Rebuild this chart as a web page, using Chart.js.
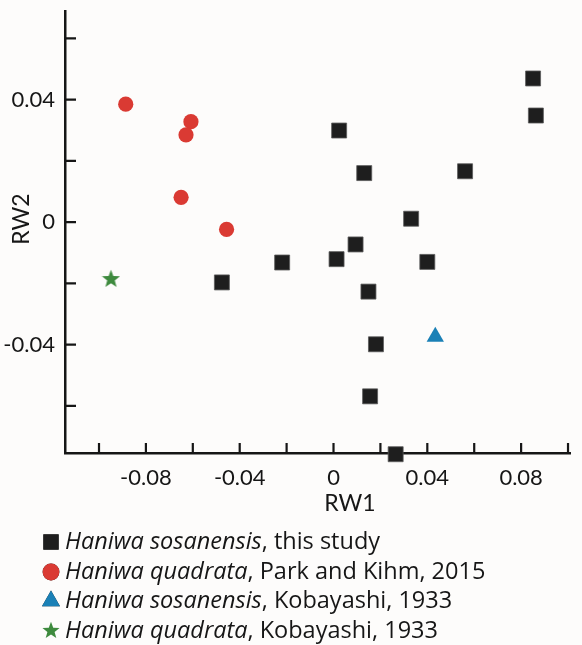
<!DOCTYPE html>
<html>
<head>
<meta charset="utf-8">
<script src="https://cdn.jsdelivr.net/npm/chart.js@4.4.1/dist/chart.umd.min.js"></script>
<style>
  html, body { margin: 0; padding: 0; background: #fdfcfb; }
  canvas { display: block; }
</style>
</head>
<body>
<canvas id="myChart" width="582" height="645"></canvas>
<script>
// series names (italic part, plain part)
const seriesItalic = ['Haniwa sosanensis', 'Haniwa quadrata', 'Haniwa sosanensis', 'Haniwa quadrata'];
const seriesPlain = [', this study', ', Park and Kihm, 2015', ', Kobayashi, 1933', ', Kobayashi, 1933'];

// Haniwa sosanensis, this study
const sosX = [0.0851, 0.0863, 0.0024, 0.0131, 0.0561, 0.0331, 0.0094, -0.0219, 0.0013, 0.0400, 0.0149, 0.0181, 0.0156, 0.0265, -0.0476];
const sosY = [0.0469, 0.0348, 0.0299, 0.0160, 0.0166, 0.0011, -0.0073, -0.0132, -0.0121, -0.0130, -0.0227, -0.0399, -0.0569, -0.0758, -0.0197];
// Haniwa quadrata, Park and Kihm 2015
const quadX = [-0.0886, -0.0608, -0.0629, -0.0650, -0.0456];
const quadY = [0.0385, 0.0328, 0.0285, 0.0081, -0.0024];
// Kobayashi 1933
const kobSosX = [0.0434];
const kobSosY = [-0.0374];
const kobQuadX = [-0.0949];
const kobQuadY = [-0.0184];

// tick positions (only every other one gets a label)
const xTicks = [-0.10, -0.08, -0.06, -0.04, -0.02, 0, 0.02, 0.04, 0.06, 0.08, 0.10];
const yTicks = [-0.06, -0.04, -0.02, 0, 0.02, 0.04, 0.06];

const xTitle = 'RW1';
const yTitle = 'RW2';

function pts(xs, ys) {
    return xs.map((x, i) => ({x: x, y: ys[i]}));
}

// filled five point star for the green marker
function makeStar(size, color) {
    const c = document.createElement('canvas');
    c.width = size; c.height = size;
    const g = c.getContext('2d');
    const cx = size / 2, cy = size / 2 + 0.8, ro = size / 2, ri = ro * 0.42;
    g.beginPath();
    for (let i = 0; i < 10; i++) {
        const r = i % 2 === 0 ? ro : ri;
        const a = -Math.PI / 2 + i * Math.PI / 5;
        g.lineTo(cx + r * Math.cos(a), cy + r * Math.sin(a));
    }
    g.closePath();
    g.fillStyle = color;
    g.fill();
    return c;
}
const star = makeStar(19, '#3e8a3e');
const legendStar = makeStar(18, '#3e8a3e');

const FONT = 'Lato, "Open Sans", sans-serif';
const LEGEND_FONT = '"Open Sans", Lato, sans-serif';
const INK = '#161616';

const isStep = (v, s) => Math.abs(v / s - Math.round(v / s)) < 1e-6;
const noPad = s => { s.paddingLeft = 0; s.paddingRight = 0; s.paddingTop = 0; s.paddingBottom = 0; };
const tickLabel = v => isStep(v, 0.04) ? (Math.abs(v) < 1e-9 ? '0' : v.toFixed(2)) : '';

const extras = {
    id: 'extras',
    afterDraw(chart) {
        const ctx = chart.ctx;
        const xs = chart.scales.x, ys = chart.scales.y;
        const a = chart.chartArea;
        ctx.save();
        // inward tick marks
        ctx.strokeStyle = INK;
        ctx.lineWidth = 2.2;
        ctx.beginPath();
        xs.ticks.forEach(t => {
            const px = xs.getPixelForValue(t.value);
            ctx.moveTo(px, a.bottom);
            ctx.lineTo(px, a.bottom - 10);
        });
        ys.ticks.forEach(t => {
            const py = ys.getPixelForValue(t.value);
            ctx.moveTo(a.left, py);
            ctx.lineTo(a.left + 11, py);
        });
        ctx.stroke();

        // axis titles
        ctx.fillStyle = INK;
        ctx.font = '23px ' + FONT;
        ctx.textAlign = 'center';
        ctx.textBaseline = 'middle';
        ctx.fillText(xTitle, 350, 504);
        ctx.save();
        ctx.translate(22, 219);
        ctx.rotate(-Math.PI / 2);
        ctx.fillText(yTitle, 0, 0);
        ctx.restore();

        // legend
        const rowY = [542, 572, 601, 631];
        chart.data.datasets.forEach((ds, i) => {
            const y = rowY[i];
            const mx = 51;
            if (ds.pointStyle instanceof HTMLCanvasElement) {
                ctx.drawImage(legendStar, mx - 9, y - 10);
            } else {
                Chart.helpers.drawPoint(ctx, {
                    pointStyle: ds.pointStyle,
                    radius: ds.legendRadius,
                    borderWidth: 0
                }, mx, y);
                ctx.fillStyle = ds.backgroundColor;
                ctx.fill();
            }
            ctx.fillStyle = INK;
            ctx.textAlign = 'left';
            ctx.textBaseline = 'middle';
            ctx.font = 'italic 23.5px ' + LEGEND_FONT;
            ctx.fillText(seriesItalic[i], 65, y);
            const w = ctx.measureText(seriesItalic[i]).width;
            ctx.font = '23.5px ' + LEGEND_FONT;
            ctx.fillText(seriesPlain[i], 65 + w, y);
        });
        ctx.restore();
    }
};

const ctx = document.getElementById('myChart').getContext('2d');
const myChart = new Chart(ctx, {
    type: 'scatter',
    data: {
        datasets: [{
            label: seriesItalic[0] + seriesPlain[0],
            data: pts(sosX, sosY),
            pointStyle: 'rect',
            pointRadius: 10.6,
            legendRadius: 10.8,
            backgroundColor: '#1e1e1e',
            borderColor: '#5a5a5a',
            borderWidth: 0.8,
            clip: false
        }, {
            label: seriesItalic[1] + seriesPlain[1],
            data: pts(quadX, quadY),
            pointStyle: 'circle',
            pointRadius: 7.6,
            legendRadius: 8.4,
            backgroundColor: '#da3a33',
            borderWidth: 0,
            clip: false
        }, {
            label: seriesItalic[2] + seriesPlain[2],
            data: pts(kobSosX, kobSosY),
            pointStyle: 'triangle',
            pointRadius: 10,
            legendRadius: 10.4,
            backgroundColor: '#1a80b6',
            borderWidth: 0,
            clip: false
        }, {
            label: seriesItalic[3] + seriesPlain[3],
            data: pts(kobQuadX, kobQuadY),
            pointStyle: star,
            pointRadius: 10,
            backgroundColor: '#3e8a3e',
            borderWidth: 0,
            clip: false
        }]
    },
    options: {
        responsive: false,
        animation: false,
        layout: { padding: { top: 10, right: 0, bottom: 0, left: 0 } },
        plugins: {
            legend: { display: false },
            tooltip: { enabled: false }
        },
        scales: {
            x: {
                type: 'linear',
                min: -0.1145,
                max: 0.1011,
                afterBuildTicks: s => { s.ticks = xTicks.map(v => ({value: v})); },
                afterFit: s => { s.height = 192; noPad(s); },
                grid: { display: false },
                border: { display: true, color: INK, width: 2.5 },
                ticks: {
                    autoSkip: false,
                    maxRotation: 0,
                    padding: 4,
                    color: INK,
                    font: { family: FONT, size: 22 },
                    callback: tickLabel
                }
            },
            y: {
                type: 'linear',
                min: -0.0754,
                max: 0.0688,
                afterBuildTicks: s => { s.ticks = yTicks.map(v => ({value: v})); },
                afterFit: s => { s.width = 65; noPad(s); },
                grid: { display: false },
                border: { display: true, color: INK, width: 2.5 },
                ticks: {
                    autoSkip: false,
                    padding: 2,
                    color: INK,
                    font: { family: FONT, size: 22 },
                    callback: tickLabel
                }
            }
        }
    },
    plugins: [extras]
});
</script>
</body>
</html>
